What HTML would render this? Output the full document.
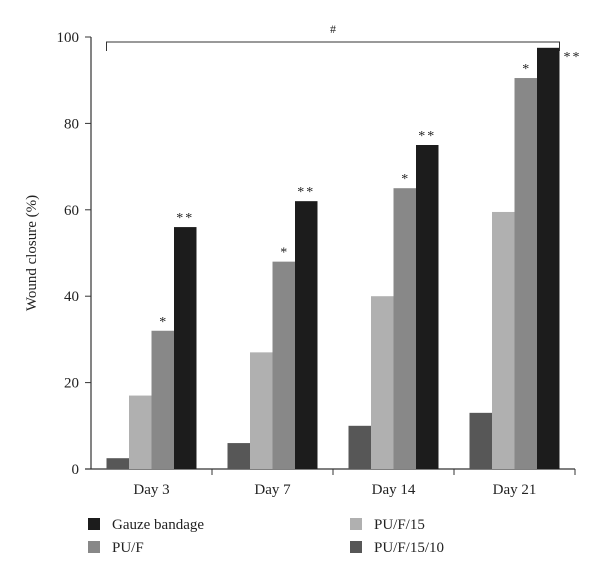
<!DOCTYPE html>
<html><head><meta charset="utf-8"><style>
body{margin:0;background:#fff}
svg text{font-family:"Liberation Serif",serif;fill:#222}
</style></head><body>
<svg width="600" height="576" viewBox="0 0 600 576">
<g id="plot"></g>
<script>
const categories=["Day 3","Day 7","Day 14","Day 21"];
const seriesNames=["PU/F/15/10","PU/F/15","PU/F","Gauze bandage"];
const seriesColors=["#575757","#b0b0b0","#888888","#1c1c1c"];
const s1510=[2.5,6,10,13];
const s15=[17,27,40,59.5];
const spuf=[32,48,65,90.5];
const sgauze=[56,62,75,97.5];
const yTicks=[0,20,40,60,80,100];
const ns="http://www.w3.org/2000/svg";
const g=document.getElementById('plot');
const x0=91,x1=575,yZero=469,yTop=37;
const y=v=>yZero-(yZero-yTop)*v/100;
const band=(x1-x0)/categories.length;
const bw=22.5;
function el(t,a,txt){const e=document.createElementNS(ns,t);for(const k in a)e.setAttribute(k,a[k]);if(txt!==undefined)e.textContent=txt;g.appendChild(e);return e;}
const series=[s1510,s15,spuf,sgauze];
// axes
let ya=el('line',{x1:x0,y1:yTop,x2:x0,y2:yZero,stroke:'#333','stroke-width':1.2});


let xa=el('line',{x1:x0-6,y1:yZero,x2:x1,y2:yZero,stroke:'#333','stroke-width':1.2});


yTicks.forEach(t=>{
 let tk=el('line',{x1:x0-6,y1:y(t),x2:x0,y2:y(t),stroke:'#333'});
 
 
 let tl=el('text',{x:x0-12,y:y(t)+5,'text-anchor':'end','font-size':15},t);
 
 
});
for(let i=1;i<=categories.length;i++){
 let tk=el('line',{x1:x0+band*i,y1:yZero,x2:x0+band*i,y2:yZero+6,stroke:'#333'});
 
 
}
let yt=el('text',{x:36,y:253,'text-anchor':'middle','font-size':15,transform:'rotate(-90 36 253)'},'Wound closure (%)');


categories.forEach((c,i)=>{
 const cx=x0+band*(i+0.5);
 let cl=el('text',{x:cx,y:yZero+25,'text-anchor':'middle','font-size':15},c);
 
 
 series.forEach((s,j)=>{
  const bx=cx-2*bw+j*bw;
  let r=el('rect',{x:bx,y:y(s[i]),width:bw,height:yZero-y(s[i]),fill:seriesColors[j]});
  
  
  if(j==2){let a=el('text',{x:bx+bw/2,y:y(s[i])-5,'text-anchor':'middle','font-size':14,fill:'#444'},'*');
   
   }
  if(j==3){const last=i==categories.length-1;
   let a=el('text',{x:last?bx+bw+13:bx+bw/2,y:last?y(s[i])+13:y(s[i])-5,'text-anchor':'middle','font-size':14,fill:'#444','letter-spacing':2},'**');
   
   }
 });
});
// bracket
const bl=x0+band*0.5-2*bw, br=x0+band*3.5+2*bw;
let b=el('path',{d:`M${bl},51 V42 H${br} V51`,fill:'none',stroke:'#333','stroke-width':1});


let h=el('text',{x:(bl+br)/2,y:33,'text-anchor':'middle','font-size':12},'#');


// legend
const leg=[[3,88,524],[1,350,524],[2,88,547],[0,350,547]];
leg.forEach(([j,lx,ly])=>{
 let r=el('rect',{x:lx,y:ly-6,width:12,height:12,fill:seriesColors[j]});
 
 
 let t=el('text',{x:lx+24,y:ly+5,'font-size':15},seriesNames[j]);
 
 
});
</script>
</svg>
</body></html>
